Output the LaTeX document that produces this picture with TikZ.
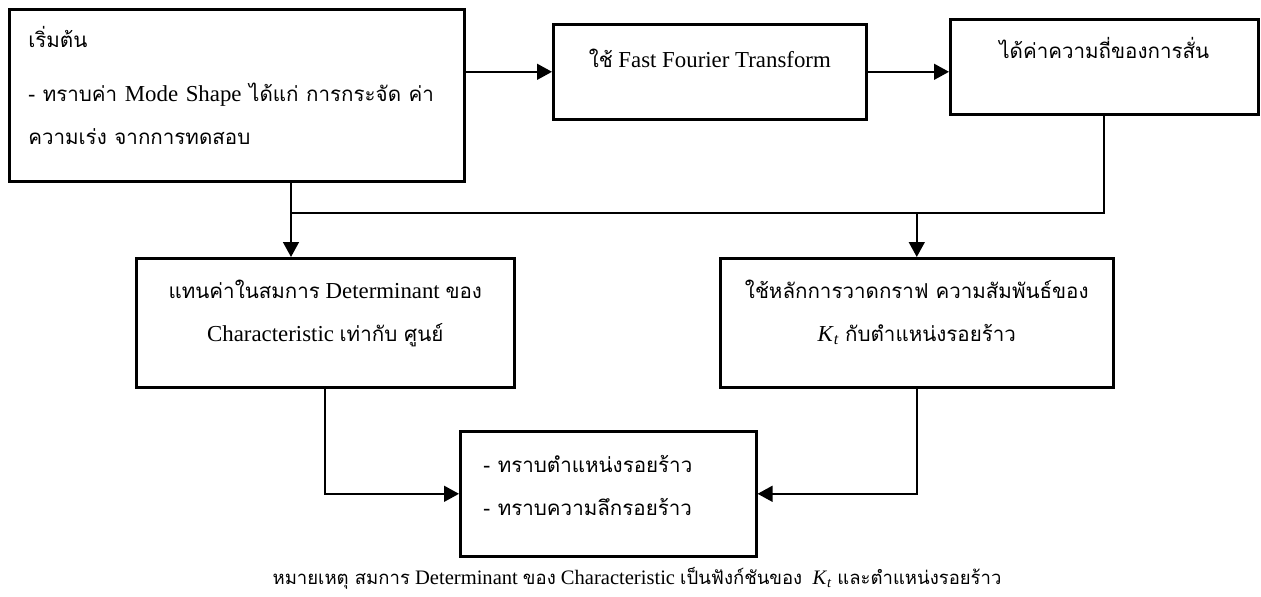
\documentclass[tikz,border=0pt]{standalone}
\usepackage{fontspec}
\setmainfont{Liberation Serif}
\newfontfamily\thaifont[Script=Thai,Scale=0.9]{Loma}
\usetikzlibrary{positioning,arrows.meta}
\newcommand{\tha}[1]{{\thaifont #1}}
\newcommand{\Kt}{\textit{K}\textsubscript{\textit{t}}}

\begin{document}
\begin{tikzpicture}[
x=0.02cm, y=-0.02cm,
font=\fontsize{13}{24.5}\selectfont,
box/.style={draw, line width=1.5pt, inner sep=0pt, anchor=north west, align=center},
arr/.style={-{Triangle[length=8.5pt, width=9pt]}, line width=1.1pt},
link/.style={line width=1.1pt}
]
\useasboundingbox (0,0) rectangle (1261,597);
\node[box, minimum width=9.10cm, minimum height=3.44cm, text width=8.34cm, align=left, text depth=2.32cm] (start) at (8,8)
  {\tha{เริ่มต้น}\\[6pt]
   \tha{- ทราบค่า} Mode Shape \tha{ได้แก่ การกระจัด ค่า}\\
   \tha{ความเร่ง จากการทดสอบ}};
\node[box, minimum width=6.26cm, minimum height=1.90cm, text depth=0.55cm] (fft) at (552,23)
  {\tha{ใช้} Fast Fourier Transform};
\node[box, minimum width=6.16cm, minimum height=1.90cm, text depth=0.75cm] (freq) at (949,18)
  {\tha{ได้ค่าความถี่ของการสั่น}};
\node[box, minimum width=7.56cm, minimum height=2.58cm, text depth=0.5cm] (det) at (135,257)
  {\tha{แทนค่าในสมการ} Determinant \tha{ของ}\\
   Characteristic \tha{เท่ากับ ศูนย์}};
\node[box, minimum width=7.86cm, minimum height=2.58cm, text depth=0.5cm] (graph) at (719,257)
  {\tha{ใช้หลักการวาดกราฟ ความสัมพันธ์ของ}\\
   \Kt\ \tha{กับตำแหน่งรอยร้าว}};
\node[box, minimum width=5.92cm, minimum height=2.50cm, text width=5.0cm, align=left, text depth=1.2cm] (result) at (459,430)
  {\tha{- ทราบตำแหน่งรอยร้าว}\\
   \tha{- ทราบความลึกรอยร้าว}};
\node[font=\fontsize{11.7}{14}\selectfont] (note) at (637,578)
  {\tha{หมายเหตุ สมการ} Determinant \tha{ของ} Characteristic \tha{เป็นฟังก์ชันของ} \ \Kt\ \tha{และตำแหน่งรอยร้าว}};

\coordinate (busL) at (291,213);
\draw[arr] (fft.west -| start.east) -- (fft.west);
\draw[arr] (fft.east) -- (fft.east -| freq.west);
\draw[link] (freq.south) |- (busL);
\draw[arr] (start.south -| busL) -- (det.north -| busL);
\draw[arr] (graph.north |- busL) -- (graph.north);
\draw[arr] (det.south) |- (result.west);
\draw[arr] (graph.south) |- (result.east);
\end{tikzpicture}
\end{document}
